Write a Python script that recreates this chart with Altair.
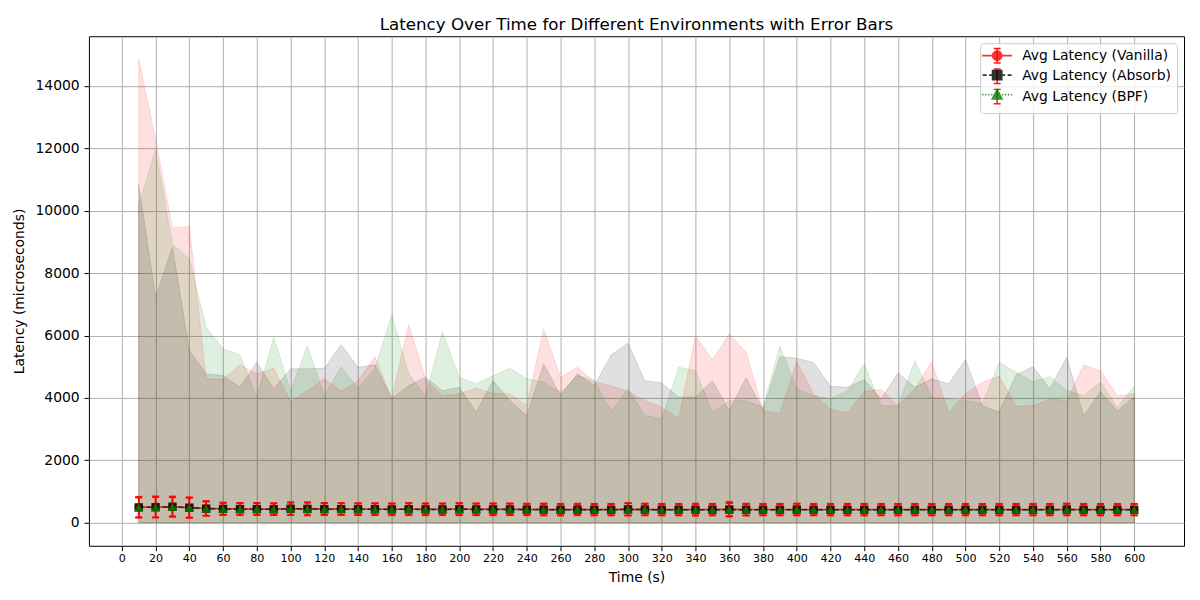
import altair as alt
import pandas as pd

# ---------------- data ----------------
time_s = list(range(10, 601, 10))

labels = ["Avg Latency (Vanilla)", "Avg Latency (Absorb)", "Avg Latency (BPF)"]

vanilla_max = [14850, 12300, 9440, 9500, 4610, 4600, 5060, 4770, 4950, 3880,
               4230, 4610, 4210, 4550, 5330, 3980, 6350, 4600, 4070, 4130,
               4310, 4140, 4130, 3750, 6210, 4660, 4980, 4520, 4390, 4200,
               3910, 3700, 3330, 5990, 5220, 6050, 5460, 3590, 3490, 5160,
               4130, 3630, 3520, 4200, 4270, 3750, 4290, 5160, 3540, 4130,
               4500, 4690, 3730, 3750, 3970, 3910, 5060, 4870, 4070, 4130]
absorb_max = [10830, 7230, 8830, 5510, 4770, 4710, 4340, 5140, 4290, 4930,
              4930, 4950, 5700, 4980, 5060, 3980, 4390, 4660, 4230, 4340,
              3540, 4550, 3910, 3430, 5090, 4070, 4770, 4390, 5380, 5750,
              4550, 4480, 4020, 4020, 4550, 3590, 4640, 3620, 5320, 5270,
              5130, 4370, 4340, 4580, 3970, 4800, 4340, 4610, 4450, 5230,
              3750, 3540, 4740, 5000, 4290, 5300, 3430, 4200, 3590, 4020]
bpf_max = [10200, 11950, 8930, 8450, 6260, 5570, 5380, 4020, 5940, 4230,
           5670, 4070, 5000, 4290, 4950, 6660, 4770, 4050, 6120, 4660,
           4450, 4710, 4950, 4610, 4500, 4180, 4710, 4550, 3570, 4290,
           3430, 3330, 4980, 4870, 3540, 3910, 3910, 3700, 5670, 4290,
           4070, 3970, 4230, 5090, 3750, 3750, 5190, 4020, 3970, 3910,
           3810, 5140, 4820, 4520, 4680, 4230, 4070, 4500, 3700, 4370]

vanilla_mean = [495, 505, 515, 485, 460, 445, 440, 440, 435, 450,
                445, 440, 440, 435, 435, 430, 435, 430, 430, 435,
                430, 430, 430, 425, 425, 420, 425, 420, 420, 430,
                425, 420, 420, 420, 420, 430, 420, 420, 420, 425,
                420, 420, 420, 420, 420, 420, 420, 420, 420, 420,
                420, 420, 420, 420, 420, 425, 420, 420, 420, 420]
absorb_mean = [490, 495, 510, 480, 450, 440, 435, 435, 430, 445,
               440, 435, 435, 430, 430, 425, 430, 425, 425, 430,
               425, 425, 425, 420, 420, 415, 420, 415, 415, 425,
               420, 415, 415, 415, 415, 420, 415, 415, 415, 420,
               415, 415, 415, 415, 415, 415, 415, 415, 415, 415,
               415, 415, 415, 415, 415, 420, 415, 415, 415, 415]
bpf_mean = [495, 500, 512, 482, 455, 442, 438, 438, 432, 447,
            442, 438, 438, 432, 432, 428, 432, 428, 428, 432,
            428, 428, 428, 422, 422, 418, 422, 418, 418, 428,
            422, 418, 418, 418, 418, 422, 418, 418, 418, 422,
            418, 418, 418, 418, 418, 418, 418, 418, 418, 418,
            418, 418, 418, 418, 418, 422, 418, 418, 418, 418]

vanilla_std = [340, 345, 330, 335, 240, 205, 200, 200, 195, 210,
               215, 200, 200, 195, 195, 195, 200, 195, 195, 200,
               195, 195, 195, 190, 195, 190, 190, 190, 190, 205,
               195, 190, 190, 195, 190, 240, 195, 190, 190, 195,
               190, 190, 190, 190, 190, 190, 190, 190, 190, 190,
               190, 190, 190, 190, 190, 195, 190, 190, 190, 190]
absorb_std = [310, 320, 300, 310, 220, 190, 185, 185, 180, 195,
              200, 185, 185, 180, 180, 180, 185, 180, 180, 185,
              180, 180, 180, 175, 180, 175, 175, 175, 175, 190,
              180, 175, 175, 180, 175, 200, 180, 175, 175, 180,
              175, 175, 175, 175, 175, 175, 175, 175, 175, 175,
              175, 175, 175, 175, 175, 180, 175, 175, 175, 175]
bpf_std = [325, 330, 315, 320, 230, 195, 190, 190, 188, 200,
           205, 190, 190, 188, 188, 188, 190, 188, 188, 190,
           188, 188, 188, 182, 186, 182, 182, 182, 182, 196,
           186, 182, 182, 186, 182, 215, 186, 182, 182, 186,
           182, 182, 182, 182, 182, 182, 182, 182, 182, 182,
           182, 182, 182, 182, 182, 186, 182, 182, 182, 182]

# ---------------- styling ----------------
FONT = "DejaVu Sans"
colors = ["#ff0000", "#000000", "#008000"]
marker_shapes = ["circle", "square", "triangle-up"]
marker_sizes = [70, 72, 85]
dashes = [[1, 0], [5.5, 2.4], [1.5, 2.5]]

# invisible vertical extent so that glyph legends lay out like the error-bar legend
EXT = "M0,-1.45L0,-1.449M0,1.45L0,1.449"
legend_paths = [
    EXT + "M-3,0L3,0M0.9,0A0.9,0.9,0,1,1,-0.9,0A0.9,0.9,0,1,1,0.9,0Z",
    EXT + "M-2.9,0L-2.1,0M-1.6,0L-0.9,0M0.9,0L1.6,0M2.1,0L2.9,0"
    "M-0.9,-0.9L0.9,-0.9L0.9,0.9L-0.9,0.9Z",
    EXT + "M-3,0L-2.75,0M-2.4,0L-2.15,0M-1.8,0L-1.55,0M-1.2,0L-0.95,0"
    "M0.95,0L1.2,0M1.55,0L1.8,0M2.15,0L2.4,0M2.75,0L3,0"
    "M0,-0.95L0.95,0.85L-0.95,0.85Z",
]
errbar_path = "M-0.7,-1.45L0.7,-1.45M0,-1.45L0,1.45M-0.7,1.45L0.7,1.45"

W, H = 1096, 510

x_scale = alt.Scale(domain=[-19.5, 629.5], nice=False, zero=False)
y_scale = alt.Scale(domain=[-740, 15590], nice=False, zero=False)
x_axis = alt.Axis(values=list(range(0, 601, 20)), title="Time (s)", labelFontSize=11.1,
                  labelFlush=False, labelOverlap=False, labelPadding=2, titlePadding=7)
y_axis = alt.Axis(values=list(range(0, 14001, 2000)), title="Latency (microseconds)",
                  format="d", labelFontSize=13.9, labelFlush=False, labelOverlap=False,
                  labelPadding=4.9, titlePadding=8)


def X():
    return alt.X("t:Q", scale=x_scale, axis=x_axis, title="Time (s)")


def Y(field):
    return alt.Y(f"{field}:Q", scale=y_scale, axis=y_axis, title="Latency (microseconds)")


series = [
    (vanilla_max, vanilla_mean, vanilla_std),
    (absorb_max, absorb_mean, absorb_std),
    (bpf_max, bpf_mean, bpf_std),
]

frames = []
for (mx, mn, sd) in series:
    frames.append(pd.DataFrame({
        "t": time_s,
        "max": mx,
        "mean": mn,
        "lo": [m - s for m, s in zip(mn, sd)],
        "hi": [m + s for m, s in zip(mn, sd)],
    }))

layers = []
# fills
for i, df in enumerate(frames):
    layers.append(
        alt.Chart(df).mark_area(color=colors[i], fillOpacity=0.12, stroke=colors[i],
                                strokeOpacity=0.13, strokeWidth=1)
        .encode(x=X(), y=Y("max"), y2=alt.datum(0))
    )

# error bars, lines, markers
for i, df in enumerate(frames):
    base = alt.Chart(df)
    layers.append(base.mark_rule(color="red", strokeWidth=1.5, opacity=0.85)
                  .encode(x=X(), y=Y("lo"), y2="hi"))
    layers.append(base.transform_fold(["lo", "hi"], as_=["k", "v"])
                  .mark_tick(color="red", orient="horizontal", size=7, thickness=1.5, opacity=0.85)
                  .encode(x=X(), y=Y("v")))
    line_kwargs = dict(color=colors[i], strokeWidth=1.5, opacity=0.8)
    if i > 0:
        line_kwargs["strokeDash"] = dashes[i]
    layers.append(base.mark_line(**line_kwargs).encode(x=X(), y=Y("mean")))
    layers.append(base.mark_point(shape=marker_shapes[i], filled=True, size=marker_sizes[i],
                                  color=colors[i], opacity=0.8, strokeWidth=0)
                  .encode(x=X(), y=Y("mean")))

# ---------------- legend ----------------
leg_df = pd.DataFrame({"label": labels})
PAD, ROWPAD, ROWSTEP = 5.5, -1.5, 19.5

# box + labels + red error-bar glyphs
legA = alt.Legend(orient="none", legendX=892, legendY=7, padding=PAD, rowPadding=ROWPAD,
                  symbolSize=100, symbolOffset=4.55, labelOffset=18.05, labelFontSize=13.9,
                  labelFont=FONT, labelColor="black", labelLimit=400, title=None,
                  fillColor="rgba(255,255,255,0.8)", strokeColor="#cccccc", cornerRadius=3,
                  symbolStrokeWidth=1.5, symbolOpacity=0.9, zindex=0)
legend_layers = [
    alt.Chart(leg_df).mark_point(filled=False, color="red", strokeWidth=1.5)
    .encode(shape=alt.Shape("label:N", scale=alt.Scale(domain=labels, range=[errbar_path] * 3),
                            legend=legA))
    .transform_filter("false")
]

# line + marker glyph of each entry, drawn over the box
for i, lab in enumerate(labels):
    legB = alt.Legend(orient="none", legendX=886.55, legendY=7 + i * ROWSTEP, padding=PAD,
                      symbolSize=100, symbolOffset=10, labelFontSize=13.9, labelExpr="' '",
                      labelOpacity=0, title=None, symbolStrokeWidth=1.8, symbolOpacity=0.8,
                      zindex=1)
    legend_layers.append(
        alt.Chart(leg_df).mark_point(filled=True, color=colors[i], stroke=colors[i],
                                     strokeWidth=1.8, opacity=0.8)
        .encode(shape=alt.Shape("label:N", scale=alt.Scale(domain=[lab], range=[legend_paths[i]]),
                                legend=legB))
        .transform_filter("false")
    )

chart = (
    alt.layer(*layers, *legend_layers)
    .resolve_scale(shape="independent")
    .properties(
        width=W, height=H,
        title=alt.TitleParams("Latency Over Time for Different Environments with Error Bars",
                              fontSize=16.7, fontWeight="normal", font=FONT, anchor="middle",
                              offset=3, color="black"),
        padding={"left": 81, "top": 28, "right": 8, "bottom": 40},
        autosize=alt.AutoSizeParams(type="none"),
    )
    .configure(font=FONT)
    .configure_view(stroke="black", strokeWidth=1)
    .configure_axis(grid=True, gridColor="#b0b0b0", gridWidth=1, domain=False,
                    tickColor="black", tickSize=4.9, tickWidth=1, labelColor="black",
                    titleColor="black", titleFontSize=13.9,
                    titleFontWeight="normal", labelFont=FONT, titleFont=FONT)
)

chart.save("out.html", embed_options={"renderer": "svg", "actions": False})
